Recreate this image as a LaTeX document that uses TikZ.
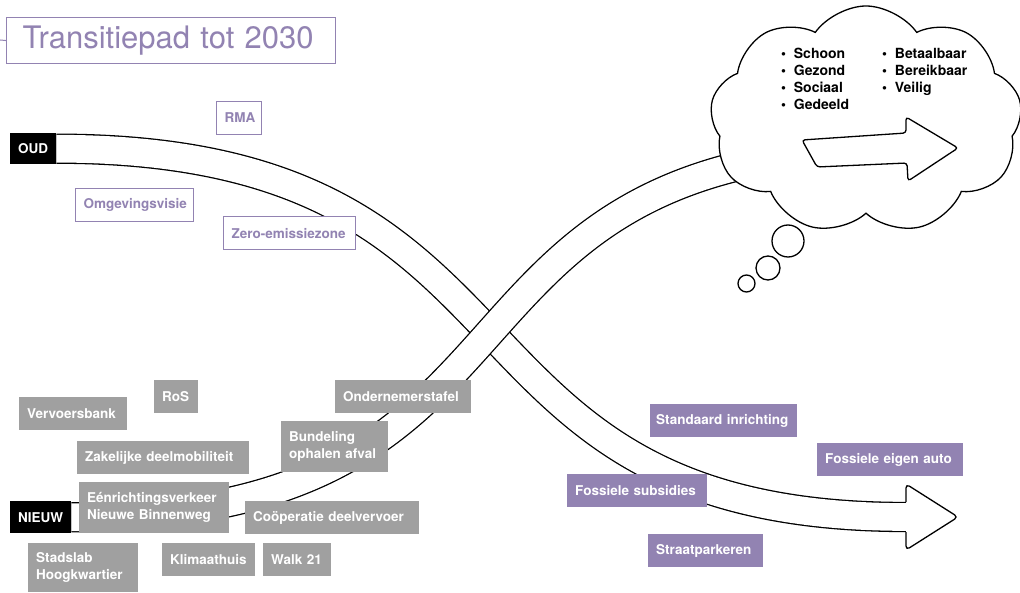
\documentclass[tikz,border=0pt]{standalone}
\usepackage{fontspec}
\setmainfont{TeX Gyre Heros}
\usetikzlibrary{shapes.symbols,calc}

\definecolor{paars}{RGB}{146,131,178}
\definecolor{grijs}{RGB}{160,160,160}

\begin{document}
\begin{tikzpicture}[
    x=1pt, y=-1pt,
    blok/.style={rectangle, anchor=north west, inner xsep=8pt, inner ysep=0pt, minimum height=33pt, align=left, text=white, font=\fontsize{13.5}{17}\selectfont\bfseries},
    zwartblok/.style={blok, fill=black},
    grijsblok/.style={blok, fill=grijs},
    paarsblok/.style={blok, fill=paars},
    lijnblok/.style={blok, draw=paars, line width=1.1pt, fill=white, text=paars},
    band/.style={draw=black, line width=1.3pt, double=white, double distance=27.7pt},
    lijn/.style={draw=black, line width=1.3pt, fill=white, rounded corners=4pt},
    bel/.style={circle, draw, line width=1.3pt, fill=white, inner sep=0pt},
    wolktekst/.style={anchor=north west, inner sep=0pt, align=left, font=\fontsize{14}{17}\selectfont\bfseries}
]
\useasboundingbox (0,0) rectangle (1020,593);

% Title
\node[lijnblok, inner xsep=16pt, text width=297pt, minimum height=46pt, font=\fontsize{31}{36}\selectfont] (titel) at (6,17) {Transitiepad tot 2030};
\coordinate (tick) at (0,40);
\draw[paars, line width=1pt] (tick) -- (titel.west);

% Start of both paths
\node[zwartblok, text width=30pt, minimum height=31pt] (oud) at (10,133) {OUD};
\node[zwartblok, text width=45pt, minimum height=32pt] (nieuw) at (10,501) {NIEUW};
\coordinate (oudend) at (906,517);
\coordinate (nieuwend) at (906,148.5);

% Old path, going down
\draw[band] (oud.east) .. controls +(511,0) and +(-487,0) .. (oudend);
\draw[lijn] ($(oudend)+(0,-15)$) -- ++(0,-18) -- ++(52,33) -- ++(-52,33) -- ++(0,-18);

% New path, going up
\draw[band] (nieuw.east) .. controls +(507,0) and +(-505,0) .. (nieuwend);

% Old
\node[lijnblok, text width=29pt] (rma) at (216,101) {RMA};
\node[lijnblok, text width=102pt] (omgevingsvisie) at (75,188) {Omgevingsvisie};
\node[lijnblok, text width=116pt] (zez) at (223,216) {Zero-emissiezone};
\node[paarsblok, text width=135pt, inner xsep=6pt] (standaard) at (650,404) {Standaard inrichting};
\node[paarsblok, text width=130pt] (eigenauto) at (817,443) {Fossiele eigen auto};
\node[paarsblok, text width=124pt] (subsidies) at (567,474) {Fossiele subsidies};
\node[paarsblok, text width=99pt] (parkeren) at (648,534) {Straatparkeren};

% New
\node[grijsblok, text width=92pt] (vervoersbank) at (19,397) {Vervoersbank};
\node[grijsblok, text width=28pt] (ros) at (154,380) {RoS};
\node[grijsblok, text width=156pt] (zakelijk) at (77,441) {Zakelijke deelmobiliteit};
\node[grijsblok, text width=120pt] (tafel) at (335,380) {Ondernemerstafel};
\node[grijsblok, text width=91pt, minimum height=51pt] (bundeling) at (281,421) {Bundeling\\ophalen afval};
\node[grijsblok, text width=134pt, minimum height=51pt] (eenrichting) at (79,482) {Eénrichtingsverkeer\\Nieuwe Binnenweg};
\node[grijsblok, text width=158pt] (cooperatie) at (245,501) {Coöperatie deelvervoer};
\node[grijsblok, text width=94pt, minimum height=49pt] (stadslab) at (28,543) {Stadslab\\Hoogkwartier};
\node[grijsblok, text width=77pt] (klimaathuis) at (162,543) {Klimaathuis};
\node[grijsblok, text width=52pt] (walk) at (263,543) {Walk 21};

% Cloud
\node[cloud, draw, fill=white, line width=1.3pt, cloud puffs=9, cloud puff arc=110, aspect=1.35, minimum width=312pt, minimum height=228pt, inner sep=0pt] (wolk) at (866,120) {};
\node[bel, minimum size=32pt] (bel1) at (788,241) {};
\node[bel, minimum size=24pt] (bel2) at (768,268) {};
\node[bel, minimum size=17pt] (bel3) at (746.5,283.5) {};
\draw[lijn, rounded corners=3pt] (802,140) -- (906,133) -- (906,117) -- (958,148) -- (908,181) -- (907,163) -- (817,167) -- cycle;
\node[wolktekst] (links) at (781,48) {\textbullet\ \ Schoon\\\textbullet\ \ Gezond\\\textbullet\ \ Sociaal\\\textbullet\ \ Gedeeld};
\node[wolktekst] (rechts) at (882,48) {\textbullet\ \ Betaalbaar\\\textbullet\ \ Bereikbaar\\\textbullet\ \ Veilig};

\end{tikzpicture}
\end{document}
